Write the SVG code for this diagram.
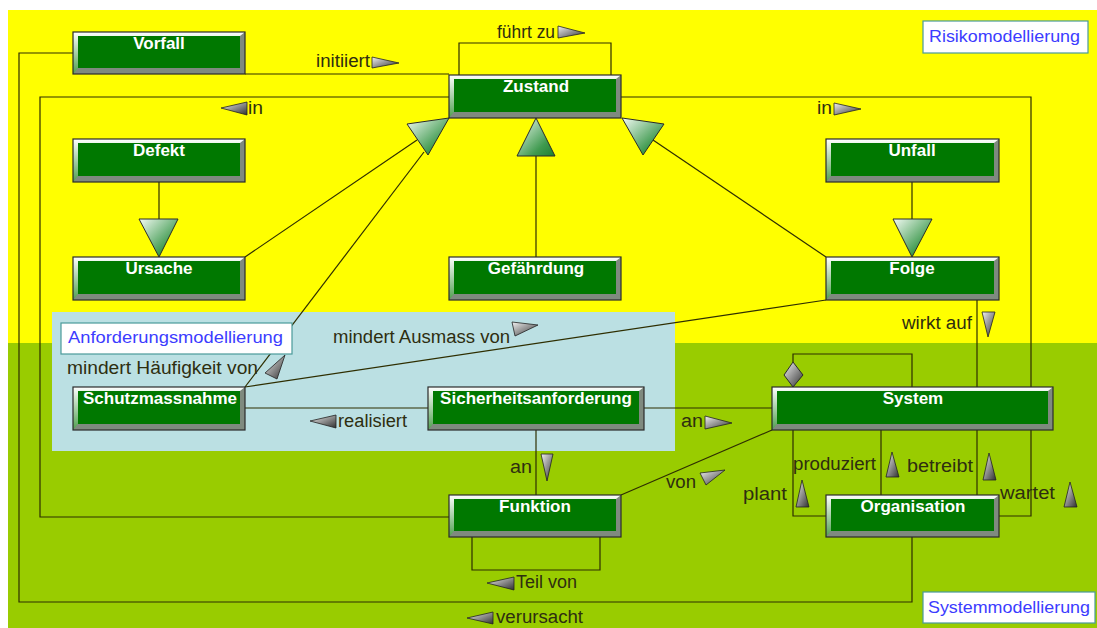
<svg xmlns="http://www.w3.org/2000/svg" width="1097" height="628" viewBox="0 0 1097 628">
<style>
.c{fill:none;stroke:#2e2e00;stroke-width:1.2}
.nb{fill:#7f8a7f}
.nh{fill:url(#hl)}
.ni{fill:#007800}
.no{fill:none;stroke:#2a2a2a;stroke-width:1.2}
.nt{font-family:"Liberation Sans",Arial,sans-serif;font-weight:bold;font-size:17px;fill:#ffffff;text-anchor:middle}
.lb{font-family:"Liberation Sans",Arial,sans-serif;font-size:18px;fill:#2e2e10}
.bx{fill:#ffffff;stroke:#4a9a9a;stroke-width:1.2}
.bt{font-family:"Liberation Sans",Arial,sans-serif;font-size:17px;fill:#3c3cff}
.ar{fill:url(#ag);stroke:#222;stroke-width:0.8}
.tr{fill:url(#tg);stroke:#2a2a2a;stroke-width:1}
</style>
<defs>
<linearGradient id="hl" x1="0" y1="0" x2="0" y2="1"><stop offset="0" stop-color="#ffffff"/><stop offset="1" stop-color="#4f9f4f"/></linearGradient>
<linearGradient id="ag" x1="0" y1="0" x2="1" y2="1"><stop offset="0" stop-color="#f2f2f2"/><stop offset="1" stop-color="#303030"/></linearGradient>
<linearGradient id="tg" x1="0" y1="0" x2="1" y2="1"><stop offset="0" stop-color="#f4fbf4"/><stop offset="0.7" stop-color="#3f9a4f"/><stop offset="1" stop-color="#1f7f2f"/></linearGradient>
</defs>
<g id="background">
<rect x="0" y="0" width="1097" height="628" fill="#ffffff"/>
<rect x="8" y="10" width="1089" height="333" fill="#ffff00"/>
<rect x="8" y="343" width="1089" height="285" fill="#99cc00"/>
<rect x="52" y="312" width="623" height="139" fill="#bbe0e3"/>
</g>
<g id="connectors">
<path class="c" d="M73,53 H19 V602 H912 V537"/>
<path class="c" d="M245,74 H449"/>
<path class="c" d="M459,75 V43 H611 V75"/>
<path class="c" d="M449,97 H40 V517 H449"/>
<path class="c" d="M621,97 H1031 V387"/>
<path class="c" d="M999,516 H1031 V430"/>
<path class="c" d="M159,182 V219"/>
<path class="c" d="M912,182 V219"/>
<path class="c" d="M245,257 L417,140"/>
<path class="c" d="M245,387 L424,152"/>
<path class="c" d="M536,257 V156"/>
<path class="c" d="M826,257 L653,140"/>
<path class="c" d="M977,300 V387"/>
<path class="c" d="M245,387 L826,300"/>
<path class="c" d="M245,408 H428"/>
<path class="c" d="M644,408 H772"/>
<path class="c" d="M536,430 V495"/>
<path class="c" d="M772,430 L621,495"/>
<path class="c" d="M793,362 V354 H912 V387"/>
<path class="c" d="M793,430 V516 H826"/>
<path class="c" d="M881,430 V495"/>
<path class="c" d="M977,430 V495"/>
<path class="c" d="M472,537 V570 H600 V537"/>
<polygon class="tr" points="139,219 178,219 159,257"/>
<polygon class="tr" points="893,219 932,219 912,257"/>
<polygon class="tr" points="407,124 449,118 428,155"/>
<polygon class="tr" points="517,156 555,156 536,118"/>
<polygon class="tr" points="664,124 622,118 643,155"/>
<polygon class="tr" points="793,362 803,375 793,387 784,375" style="fill:url(#ag)"/>
<polygon class="ar" points="372,57 399,63 372,68"/>
<polygon class="ar" points="558,26 585,33 558,38"/>
<polygon class="ar" points="221,108 247,102 247,115"/>
<polygon class="ar" points="834,103 861,109 834,115"/>
<polygon class="ar" points="265,373 285,355 277,379"/>
<polygon class="ar" points="512,322 538,325 515,336"/>
<polygon class="ar" points="982,312 995,312 988,337"/>
<polygon class="ar" points="310,421 336,415 336,428"/>
<polygon class="ar" points="705,416 732,423 705,429"/>
<polygon class="ar" points="541,454 553,454 547,481"/>
<polygon class="ar" points="700,473 725,470 706,485"/>
<polygon class="ar" points="487,583 514,577 514,590"/>
<polygon class="ar" points="467,618 493,612 493,624"/>
<polygon class="ar" points="796,507 802,480 809,507"/>
<polygon class="ar" points="886,477 892,452 899,477"/>
<polygon class="ar" points="983,480 989,453 996,480"/>
<polygon class="ar" points="1064,507 1070,482 1077,507"/>
<text class="lb" x="316" y="67" textLength="54" lengthAdjust="spacingAndGlyphs">initiiert</text>
<text class="lb" x="497" y="38" textLength="58" lengthAdjust="spacingAndGlyphs">führt zu</text>
<text class="lb" x="248" y="114" textLength="15" lengthAdjust="spacingAndGlyphs">in</text>
<text class="lb" x="817" y="114" textLength="15" lengthAdjust="spacingAndGlyphs">in</text>
<text class="lb" x="67" y="374" textLength="191" lengthAdjust="spacingAndGlyphs">mindert Häufigkeit von</text>
<text class="lb" x="333" y="343" textLength="177" lengthAdjust="spacingAndGlyphs">mindert Ausmass von</text>
<text class="lb" x="902" y="329" textLength="70" lengthAdjust="spacingAndGlyphs">wirkt auf</text>
<text class="lb" x="338" y="427" textLength="69" lengthAdjust="spacingAndGlyphs">realisiert</text>
<text class="lb" x="681" y="427" textLength="22" lengthAdjust="spacingAndGlyphs">an</text>
<text class="lb" x="510" y="473" textLength="22" lengthAdjust="spacingAndGlyphs">an</text>
<text class="lb" x="666" y="488" textLength="30" lengthAdjust="spacingAndGlyphs">von</text>
<text class="lb" x="793" y="470" textLength="83" lengthAdjust="spacingAndGlyphs">produziert</text>
<text class="lb" x="907" y="472" textLength="66" lengthAdjust="spacingAndGlyphs">betreibt</text>
<text class="lb" x="743" y="500" textLength="44" lengthAdjust="spacingAndGlyphs">plant</text>
<text class="lb" x="1000" y="499" textLength="55" lengthAdjust="spacingAndGlyphs">wartet</text>
<text class="lb" x="516" y="588" textLength="61" lengthAdjust="spacingAndGlyphs">Teil von</text>
<text class="lb" x="496" y="623" textLength="87" lengthAdjust="spacingAndGlyphs">verursacht</text>
</g>
<g id="node-vorfall">
<rect class="nb" x="73" y="32" width="172" height="42"/>
<polygon class="nh" points="73,32 245,32 240,36 78,36 78,68 73,74"/>
<rect class="ni" x="78" y="36" width="162" height="32"/>
<rect class="no" x="73" y="32" width="172" height="42"/>
<text class="nt" x="159" y="49">Vorfall</text>
</g>
<g id="node-defekt">
<rect class="nb" x="73" y="139" width="172" height="43"/>
<polygon class="nh" points="73,139 245,139 240,143 78,143 78,176 73,182"/>
<rect class="ni" x="78" y="143" width="162" height="33"/>
<rect class="no" x="73" y="139" width="172" height="43"/>
<text class="nt" x="159" y="156">Defekt</text>
</g>
<g id="node-zustand">
<rect class="nb" x="449" y="75" width="172" height="43"/>
<polygon class="nh" points="449,75 621,75 616,79 454,79 454,112 449,118"/>
<rect class="ni" x="454" y="79" width="162" height="33"/>
<rect class="no" x="449" y="75" width="172" height="43"/>
<text class="nt" x="536" y="92">Zustand</text>
</g>
<g id="node-unfall">
<rect class="nb" x="826" y="139" width="173" height="43"/>
<polygon class="nh" points="826,139 999,139 994,143 831,143 831,176 826,182"/>
<rect class="ni" x="831" y="143" width="163" height="33"/>
<rect class="no" x="826" y="139" width="173" height="43"/>
<text class="nt" x="912" y="156">Unfall</text>
</g>
<g id="node-ursache">
<rect class="nb" x="73" y="257" width="172" height="43"/>
<polygon class="nh" points="73,257 245,257 240,261 78,261 78,294 73,300"/>
<rect class="ni" x="78" y="261" width="162" height="33"/>
<rect class="no" x="73" y="257" width="172" height="43"/>
<text class="nt" x="159" y="274">Ursache</text>
</g>
<g id="node-gefaehrdung">
<rect class="nb" x="449" y="257" width="172" height="43"/>
<polygon class="nh" points="449,257 621,257 616,261 454,261 454,294 449,300"/>
<rect class="ni" x="454" y="261" width="162" height="33"/>
<rect class="no" x="449" y="257" width="172" height="43"/>
<text class="nt" x="536" y="274">Gefährdung</text>
</g>
<g id="node-folge">
<rect class="nb" x="826" y="257" width="173" height="43"/>
<polygon class="nh" points="826,257 999,257 994,261 831,261 831,294 826,300"/>
<rect class="ni" x="831" y="261" width="163" height="33"/>
<rect class="no" x="826" y="257" width="173" height="43"/>
<text class="nt" x="912" y="274">Folge</text>
</g>
<g id="node-schutzmassnahme">
<rect class="nb" x="73" y="387" width="172" height="43"/>
<polygon class="nh" points="73,387 245,387 240,391 78,391 78,424 73,430"/>
<rect class="ni" x="78" y="391" width="162" height="33"/>
<rect class="no" x="73" y="387" width="172" height="43"/>
<text class="nt" x="160" y="404">Schutzmassnahme</text>
</g>
<g id="node-sicherheitsanforderung">
<rect class="nb" x="428" y="387" width="216" height="43"/>
<polygon class="nh" points="428,387 644,387 639,391 433,391 433,424 428,430"/>
<rect class="ni" x="433" y="391" width="206" height="33"/>
<rect class="no" x="428" y="387" width="216" height="43"/>
<text class="nt" x="536" y="404">Sicherheitsanforderung</text>
</g>
<g id="node-system">
<rect class="nb" x="772" y="387" width="281" height="43"/>
<polygon class="nh" points="772,387 1053,387 1048,391 777,391 777,424 772,430"/>
<rect class="ni" x="777" y="391" width="271" height="33"/>
<rect class="no" x="772" y="387" width="281" height="43"/>
<text class="nt" x="913" y="404">System</text>
</g>
<g id="node-funktion">
<rect class="nb" x="449" y="495" width="172" height="42"/>
<polygon class="nh" points="449,495 621,495 616,499 454,499 454,531 449,537"/>
<rect class="ni" x="454" y="499" width="162" height="32"/>
<rect class="no" x="449" y="495" width="172" height="42"/>
<text class="nt" x="535" y="512">Funktion</text>
</g>
<g id="node-organisation">
<rect class="nb" x="826" y="495" width="173" height="42"/>
<polygon class="nh" points="826,495 999,495 994,499 831,499 831,531 826,537"/>
<rect class="ni" x="831" y="499" width="163" height="32"/>
<rect class="no" x="826" y="495" width="173" height="42"/>
<text class="nt" x="913" y="512">Organisation</text>
</g>
<g id="box-risikomodellierung">
<rect class="bx" x="923" y="21" width="165" height="32"/>
<text class="bt" x="929" y="42" textLength="151" lengthAdjust="spacingAndGlyphs">Risikomodellierung</text>
</g>
<g id="box-systemmodellierung">
<rect class="bx" x="923" y="592" width="172" height="31"/>
<text class="bt" x="928" y="613" textLength="162" lengthAdjust="spacingAndGlyphs">Systemmodellierung</text>
</g>
<g id="box-anforderungsmodellierung">
<rect class="bx" x="61" y="323" width="231" height="31"/>
<text class="bt" x="68" y="343" textLength="215" lengthAdjust="spacingAndGlyphs">Anforderungsmodellierung</text>
</g>
</svg>
